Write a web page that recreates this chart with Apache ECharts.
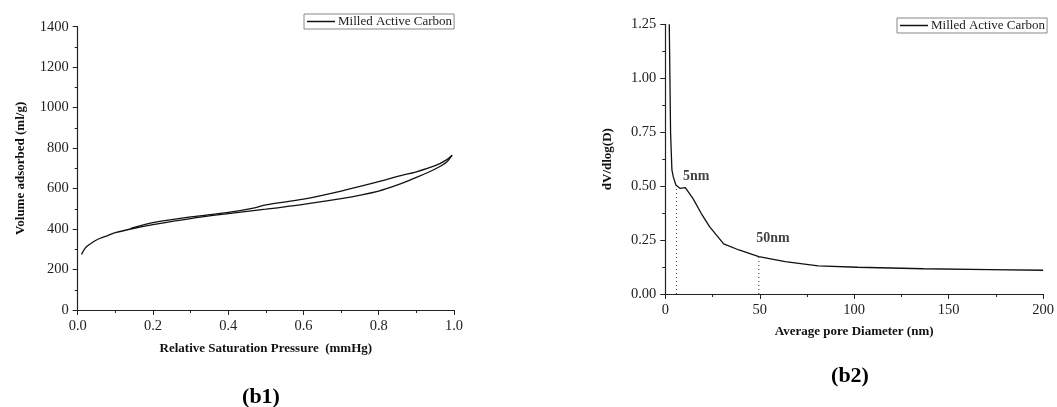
<!DOCTYPE html>
<html lang="en">
<head>
    <meta charset="UTF-8">
    <script src="https://cdn.jsdelivr.net/npm/echarts@6.0.0/dist/echarts.min.js"></script>
    <title>Milled Active Carbon</title>
    <style>
        body { margin: 0; background: #fff; }
    </style>
</head>
<body>
    <div id="chart" style="width: 1057px;height:407px;"></div>
    <script>
        // b1: isotherm, adsorption (lower) and desorption (upper) branches
        var adsP = [0.01, 0.02, 0.03, 0.05, 0.08, 0.1, 0.15, 0.2, 0.3, 0.4, 0.5, 0.6, 0.7, 0.8, 0.85, 0.9, 0.95, 0.98, 0.995];
        var adsV = [275, 306, 322, 346, 368, 382, 404, 422, 452, 476, 498, 522, 550, 588, 618, 655, 697, 730, 765];
        var desP = [0.995, 0.98, 0.95, 0.9, 0.85, 0.8, 0.7, 0.6, 0.5, 0.47, 0.4, 0.3, 0.2, 0.15, 0.14];
        var desV = [765, 742, 713, 683, 660, 634, 588, 548, 520, 505, 482, 460, 432, 408, 402];

        // b2: pore size distribution
        var poreD = [2.1, 2.8, 3.5, 4.2, 5.6, 7.7, 10.6, 14.6, 19, 23.4, 30.9, 39, 49.5, 63.5, 80.9, 101.8, 136.7, 171.6, 200];
        var poreV = [1.25, 0.745, 0.575, 0.544, 0.505, 0.49, 0.493, 0.443, 0.374, 0.312, 0.232, 0.204, 0.173, 0.15, 0.13, 0.124, 0.117, 0.113, 0.11];

        // dotted markers and their labels
        var markD = [5.9, 49.5];
        var markTop = [0.497, 0.173];
        var markText = ['5nm', '50nm'];
        var markTextPos = [[16.4, 0.547], [57, 0.256]];

        var seriesName = 'Milled Active Carbon';
        var font = 'Liberation Serif';

        function pairs(xs, ys) {
            var out = [];
            for (var i = 0; i < xs.length; i++) out.push([xs[i], ys[i]]);
            return out;
        }

        var axisCommon = {
            axisLine: { show: true, lineStyle: { color: '#222', width: 1.2 } },
            axisTick: { show: true, inside: false, length: 5, lineStyle: { color: '#222' } },
            minorTick: { show: true, splitNumber: 2, length: 3, lineStyle: { color: '#222' } },
            splitLine: { show: false },
            axisLabel: { color: '#222', fontFamily: font, fontSize: 14.5 },
            nameTextStyle: { color: '#111', fontFamily: font, fontSize: 13, fontWeight: 'bold' },
            nameLocation: 'middle'
        };

        function axis(extra) {
            return Object.assign({}, JSON.parse(JSON.stringify(axisCommon)), extra);
        }

        var chart = echarts.init(document.getElementById('chart'));

        var series = [
            {
                name: seriesName, type: 'line', xAxisIndex: 0, yAxisIndex: 0,
                data: pairs(adsP, adsV), showSymbol: false, smooth: 0.3,
                lineStyle: { color: '#111', width: 1.3 }, itemStyle: { color: '#111' }
            },
            {
                name: seriesName, type: 'line', xAxisIndex: 0, yAxisIndex: 0,
                data: pairs(desP, desV), showSymbol: false, smooth: 0.3,
                lineStyle: { color: '#111', width: 1.3 }, itemStyle: { color: '#111' }
            },
            {
                name: seriesName, type: 'line', xAxisIndex: 1, yAxisIndex: 1,
                data: pairs(poreD, poreV), showSymbol: false,
                lineStyle: { color: '#111', width: 1.3 }, itemStyle: { color: '#111' }
            }
        ];

        for (var k = 0; k < markD.length; k++) {
            series.push({
                name: 'mark' + k, type: 'line', xAxisIndex: 1, yAxisIndex: 1,
                data: [[markD[k], 0], [markD[k], markTop[k]]], showSymbol: false,
                lineStyle: { color: '#333', width: 1, type: [1, 3] }
            });
            series.push({
                name: 'label' + k, type: 'scatter', xAxisIndex: 1, yAxisIndex: 1,
                data: [markTextPos[k]], symbolSize: 0,
                label: {
                    show: true, position: 'inside', formatter: markText[k],
                    color: '#111', fontFamily: font, fontSize: 14, fontWeight: 'bold'
                }
            });
        }

        var legendCommon = {
            data: [seriesName],
            orient: 'horizontal',
            icon: 'rect',
            itemWidth: 28,
            itemHeight: 1.5,
            itemGap: 4,
            borderColor: '#888',
            borderWidth: 1,
            padding: [1, 2, 1, 3],
            selectedMode: false,
            textStyle: { color: '#222', fontFamily: font, fontSize: 13, padding: [0, 0, 0, -2] }
        };

        var option = {
            animation: false,
            backgroundColor: '#fff',
            textStyle: { fontFamily: font },
            legend: [
                Object.assign({}, legendCommon, { left: 304, top: 14 }),
                Object.assign({}, legendCommon, { left: 897, top: 18 })
            ],
            title: [
                {
                    text: '{p|(}{b|b1}{p|)}', left: 256, top: 392, textAlign: 'center', textVerticalAlign: 'middle',
                    textStyle: { rich: {
                        p: { fontFamily: font, fontSize: 22, color: '#000' },
                        b: { fontFamily: font, fontSize: 22, fontWeight: 'bold', color: '#000' }
                    } }
                },
                {
                    text: '{p|(}{b|b2}{p|)}', left: 845, top: 371, textAlign: 'center', textVerticalAlign: 'middle',
                    textStyle: { rich: {
                        p: { fontFamily: font, fontSize: 22, color: '#000' },
                        b: { fontFamily: font, fontSize: 22, fontWeight: 'bold', color: '#000' }
                    } }
                }
            ],
            grid: [
                { left: 77.7, top: 26.7, width: 376.3, height: 283.3, containLabel: false },
                { left: 665.3, top: 24.3, width: 382.4, height: 269.7, containLabel: false }
            ],
            xAxis: [
                axis({
                    gridIndex: 0, type: 'value', min: 0, max: 1, interval: 0.2,
                    name: 'Relative Saturation Pressure  (mmHg)', nameGap: 32,
                    axisLabel: Object.assign({}, axisCommon.axisLabel, {
                        margin: 9, formatter: function (v) { return v.toFixed(1); }
                    })
                }),
                axis({
                    gridIndex: 1, type: 'value', min: 0, max: 200, interval: 50,
                    name: 'Average pore Diameter (nm)', nameGap: 31,
                    axisLabel: Object.assign({}, axisCommon.axisLabel, { margin: 9 })
                })
            ],
            yAxis: [
                axis({
                    gridIndex: 0, type: 'value', min: 0, max: 1400, interval: 200,
                    name: 'Volume adsorbed (ml/g)', nameGap: 51,
                    axisLabel: Object.assign({}, axisCommon.axisLabel, {
                        margin: 9, formatter: function (v) { return String(v); }
                    })
                }),
                axis({
                    gridIndex: 1, type: 'value', min: 0, max: 1.25, interval: 0.25,
                    name: 'dV/dlog(D)', nameGap: 51,
                    axisLabel: Object.assign({}, axisCommon.axisLabel, {
                        margin: 9, formatter: function (v) { return v.toFixed(2); }
                    })
                })
            ],
            series: series
        };

        chart.setOption(option);
    </script>
</body>
</html>
